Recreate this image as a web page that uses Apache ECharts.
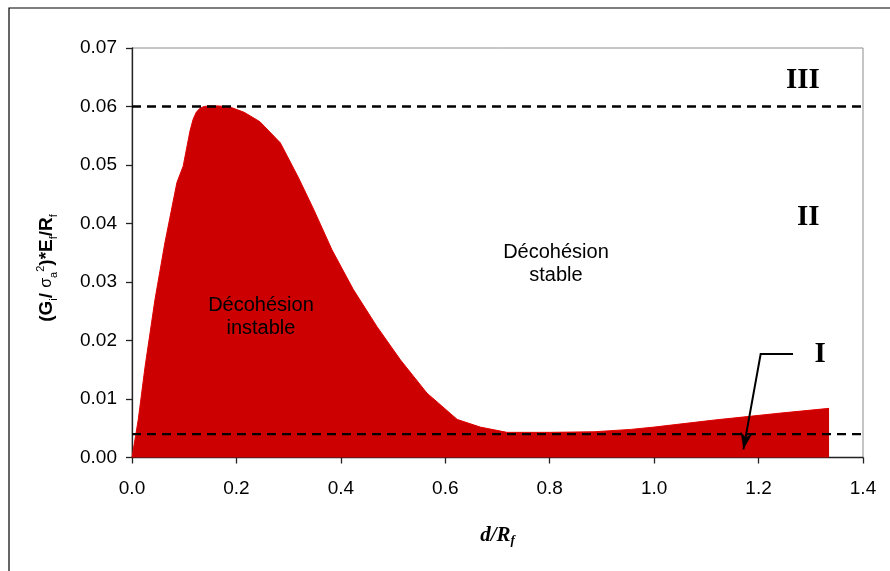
<!DOCTYPE html>
<html><head><meta charset="utf-8">
<script src="https://cdn.jsdelivr.net/npm/echarts@6/dist/echarts.min.js"></script>
<style>html,body{margin:0;padding:0;background:#fff}#c{width:890px;height:571px}</style>
</head><body><div id="c"></div>
<script>
// Curve data: d/Rf vs (Gi/σa²)*Ef/Rf
const xVals = [0, 0.012, 0.025, 0.044, 0.063, 0.086, 0.098, 0.111, 0.117, 0.123, 0.13, 0.138, 0.148, 0.165, 0.188, 0.215, 0.245, 0.284, 0.319, 0.348, 0.383, 0.424, 0.469, 0.514, 0.565, 0.623, 0.667, 0.718, 0.8, 0.885, 0.955, 1.0, 1.115, 1.243, 1.335];
const yVals = [0, 0.0065, 0.0155, 0.027, 0.0367, 0.047, 0.0498, 0.0558, 0.0578, 0.0590, 0.0597, 0.0600, 0.0601, 0.0601, 0.0599, 0.059, 0.0574, 0.0538, 0.0478, 0.0424, 0.0355, 0.0287, 0.0224, 0.0167, 0.011, 0.0065, 0.0052, 0.0043, 0.0043, 0.0044, 0.0048, 0.0052, 0.0064, 0.0076, 0.0084];
const thresholds = [0.06, 0.004];
const xTicks = ['0.0','0.2','0.4','0.6','0.8','1.0','1.2','1.4'];
const yTicks = ['0.00','0.01','0.02','0.03','0.04','0.05','0.06','0.07'];
const arrowPath = [[1.266, 0.0177], [1.204, 0.0177], [1.171, 0.0014]];
const regionLabels = [
  {text: 'Décohésion\ninstable', x: 0.247, y: 0.024, kind: 'sans'},
  {text: 'Décohésion\nstable', x: 0.812, y: 0.033, kind: 'sans'},
  {text: 'III', x: 1.285, y: 0.0645, kind: 'roman'},
  {text: 'II', x: 1.295, y: 0.041, kind: 'roman'},
  {text: 'I', x: 1.318, y: 0.0176, kind: 'roman'}
];

const chart = echarts.init(document.getElementById('c'), null, {renderer: 'canvas'});
const sans = 'Liberation Sans, Arial, sans-serif';
const serif = 'Liberation Serif, Times New Roman, serif';

const series = [
  {
    type: 'line',
    data: xVals.map((x, i) => [x, yVals[i]]),
    showSymbol: false, symbol: 'none',
    smooth: false,
    lineStyle: {color: '#e00000', width: 1},
    areaStyle: {color: '#cc0000', opacity: 1},
    z: 2
  }
];
thresholds.forEach(t => series.push({
  type: 'line',
  data: [[0, t], [1.4, t]],
  showSymbol: false, symbol: 'none',
  lineStyle: {color: '#000', type: [9, 6], width: 2.4},
  z: 4, silent: true
}));

chart.setOption({
  animation: false,
  backgroundColor: '#fff',
  grid: {left: 132, right: 27, top: 48, bottom: 113.5, show: true, borderColor: '#8c8c8c', borderWidth: 1, backgroundColor: 'transparent'},
  xAxis: {
    type: 'value', min: 0, max: 1.4, interval: 0.2,
    axisLine: {show: true, onZero: false, lineStyle: {color: '#222', width: 1.3}},
    axisTick: {show: true, length: 6, lineStyle: {color: '#222', width: 1.3}},
    splitLine: {show: false},
    axisLabel: {color: '#000', fontFamily: sans, fontSize: 19, margin: 22,
      formatter: v => xTicks[Math.round(v / 0.2)]},
    name: '{a|d/R}{s|f}',
    nameLocation: 'middle', nameGap: 66,
    nameTextStyle: {rich: {
      a: {fontFamily: serif, fontStyle: 'italic', fontWeight: 'bold', fontSize: 21, color: '#000', lineHeight: 24},
      s: {fontFamily: serif, fontStyle: 'italic', fontWeight: 'bold', fontSize: 13, color: '#000', lineHeight: 12, verticalAlign: 'bottom'}
    }}
  },
  yAxis: {
    type: 'value', min: 0, max: 0.07, interval: 0.01,
    axisLine: {show: true, lineStyle: {color: '#222', width: 1.3}},
    axisTick: {show: true, length: 6, lineStyle: {color: '#222', width: 1.3}},
    splitLine: {show: false},
    axisLabel: {color: '#000', fontFamily: sans, fontSize: 19, margin: 15,
      formatter: v => yTicks[Math.round(v / 0.01)]}
  },
  series: series
});

const gfx = [{
  type: 'rect', silent: true, z: 100,
  shape: {x: 9, y: 8, width: 1000, height: 1000},
  style: {fill: 'none', stroke: '#000', lineWidth: 1.2}
}];

// Y axis title (rotated rich text)
gfx.push({
  type: 'text', silent: true, z: 100, x: 47, y: 268, rotation: Math.PI / 2,
  style: {
    text: '{b|(G}{s|i}{b|/ }{g|σ}{s|a}{p|2}{b|)*E}{s|f}{b|/R}{s|f}',
    align: 'center', verticalAlign: 'middle',
    rich: {
      b: {fontFamily: sans, fontWeight: 'bold', fontSize: 19, fill: '#000', lineHeight: 24},
      g: {fontFamily: sans, fontWeight: 'normal', fontSize: 16, fill: '#000', lineHeight: 24},
      s: {fontFamily: sans, fontWeight: 'normal', fontSize: 11, fill: '#000', lineHeight: 13, verticalAlign: 'bottom'},
      p: {fontFamily: sans, fontWeight: 'normal', fontSize: 11, fill: '#000', lineHeight: 13, verticalAlign: 'top'}
    }
  }
});

regionLabels.forEach(l => {
  const p = chart.convertToPixel({gridIndex: 0}, [l.x, l.y]);
  const isRoman = l.kind === 'roman';
  gfx.push({
    type: 'text', silent: true, z: 100, x: p[0], y: p[1],
    style: {
      text: l.text, align: 'center', verticalAlign: 'middle',
      font: isRoman ? ('bold 29px ' + serif) : ('20px ' + sans),
      lineHeight: isRoman ? 30 : 23,
      fill: '#000'
    }
  });
});

// Arrow annotation pointing into zone I
const ap = arrowPath.map(c => chart.convertToPixel({gridIndex: 0}, c));
gfx.push({
  type: 'polyline', silent: true, z: 100,
  shape: {points: ap},
  style: {stroke: '#000', lineWidth: 2, fill: null}
});
(function () {
  const a = ap[1], b = ap[2];
  const dx = b[0] - a[0], dy = b[1] - a[1];
  const len = Math.hypot(dx, dy);
  const ux = dx / len, uy = dy / len;
  const px = -uy, py = ux;
  const L = 17, W = 6, notch = 5;
  const tip = b;
  const base = [tip[0] - ux * L, tip[1] - uy * L];
  const inner = [tip[0] - ux * (L - notch), tip[1] - uy * (L - notch)];
  gfx.push({
    type: 'polygon', silent: true, z: 101,
    shape: {points: [tip, [base[0] + px * W, base[1] + py * W], inner, [base[0] - px * W, base[1] - py * W]]},
    style: {fill: '#000'}
  });
})();

chart.setOption({graphic: gfx});
</script>
</body></html>
